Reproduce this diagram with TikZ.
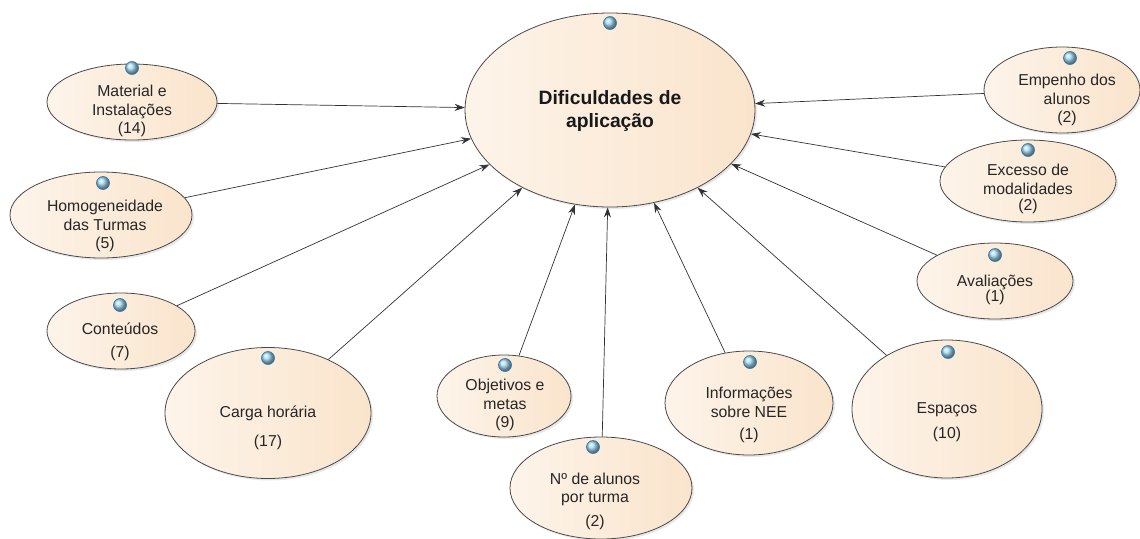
\documentclass[tikz,border=0pt]{standalone}
\usepackage{fontspec}
\setmainfont{Liberation Sans}
\usepackage{xcolor}
\usepackage{tikz}
\usetikzlibrary{shapes.geometric,shadows,arrows.meta}

\definecolor{peachlight}{HTML}{FDF4EA}
\definecolor{peachdark}{HTML}{FAE4CC}
\definecolor{rimgray}{HTML}{4A4A4A}
\definecolor{dotblue}{HTML}{A6DDF7}
\definecolor{dotrim}{HTML}{3E7FAE}

\tikzset{
  topic/.style={ellipse, draw=rimgray, line width=0.8pt, inner sep=0pt,
    left color=peachlight, right color=peachdark,
    drop shadow={opacity=0.18, shadow xshift=2pt, shadow yshift=-2pt}},
  txt/.style={align=center, text=black!85, font=\fontsize{15.8}{18.5}\selectfont},
  bigtxt/.style={align=center, text=black!90, font=\fontsize{19.3}{23}\selectfont\bfseries},
  knob/.style={circle, draw=dotrim, line width=0.7pt, minimum size=13pt,
    inner sep=0pt, ball color=dotblue},
  link/.style={draw=black!80, line width=0.7pt, -{Stealth[length=10pt, width=7pt]}}
}

\begin{document}
\begin{tikzpicture}[x=1pt, y=-1pt]
                \useasboundingbox (0,0) rectangle (1140,538);
                % main topic
                \node [topic, minimum width=290pt, minimum height=194pt] (dif) at (610,110) {};
                \node [bigtxt] (difT) at (610,111) {Dificuldades de\\aplicação};
                \node [knob] (difK) at (610,23) {};
                % left side
                \node [topic, minimum width=170pt, minimum height=76pt] (mat) at (132,102) {};
                \node [txt] (matT) at (132,111) {Material e\\Instalações\\(14)};
                \node [knob] (matK) at (132,68) {};
                \node [topic, minimum width=182pt, minimum height=86pt] (hom) at (101,215) {};
                \node [txt] (homT) at (105,226) {Homogeneidade\\das Turmas\\(5)};
                \node [knob] (homK) at (103,183) {};
                \node [topic, minimum width=148pt, minimum height=76pt] (con) at (121,331) {};
                \node [txt] (conT) at (120,342) {Conteúdos\\[4pt](7)};
                \node [knob] (conK) at (120,305) {};
                \node [topic, minimum width=206pt, minimum height=131pt] (car) at (268,413) {};
                \node [txt] (carT) at (268,428) {Carga horária\\[10pt](17)};
                \node [knob] (carK) at (268,358) {};
                % bottom
                \node [topic, minimum width=134pt, minimum height=82pt] (obj) at (504,396) {};
                \node [txt] (objT) at (505,405) {Objetivos e\\metas\\(9)};
                \node [knob] (objK) at (505,365) {};
                \node [topic, minimum width=182pt, minimum height=102pt] (alu) at (601,488) {};
                \node [txt] (aluT) at (595,501) {Nº de alunos\\por turma\\[5pt](2)};
                \node [knob] (aluK) at (593,447) {};
                \node [topic, minimum width=168pt, minimum height=104pt] (inf) at (749,403) {};
                \node [txt] (infT) at (749,415) {Informações\\sobre NEE\\[4pt](1)};
                \node [knob] (infK) at (750,362) {};
                \node [topic, minimum width=190pt, minimum height=138pt] (esp) at (947,409) {};
                \node [txt] (espT) at (947,422) {Espaços\\[6pt](10)};
                \node [knob] (espK) at (948,352) {};
                % right side
                \node [topic, minimum width=156pt, minimum height=76pt] (ava) at (995,281) {};
                \node [txt] (avaT) at (995,290) {Avaliações\\[-3pt](1)};
                \node [knob] (avaK) at (995,255) {};
                \node [topic, minimum width=176pt, minimum height=82pt] (exc) at (1028,181) {};
                \node [txt] (excT) at (1028,189) {Excesso de\\modalidades\\[-2pt](2)};
                \node [knob] (excK) at (1028,150) {};
                \node [topic, minimum width=156pt, minimum height=86pt] (emp) at (1062,90) {};
                \node [txt] (empT) at (1067,100) {Empenho dos\\alunos\\(2)};
                \node [knob] (empK) at (1070,58) {};
                % connectors
                \draw [link] (mat) -- (dif);
                \draw [link] (hom) -- (dif);
                \draw [link] (con) -- (dif);
                \draw [link] (car) -- (dif);
                \draw [link] (obj) -- (dif);
                \draw [link] (alu) -- (dif);
                \draw [link] (inf) -- (dif);
                \draw [link] (esp) -- (dif);
                \draw [link] (ava) -- (dif);
                \draw [link] (exc) -- (dif);
                \draw [link] (emp) -- (dif);
            \end{tikzpicture}
\end{document}
